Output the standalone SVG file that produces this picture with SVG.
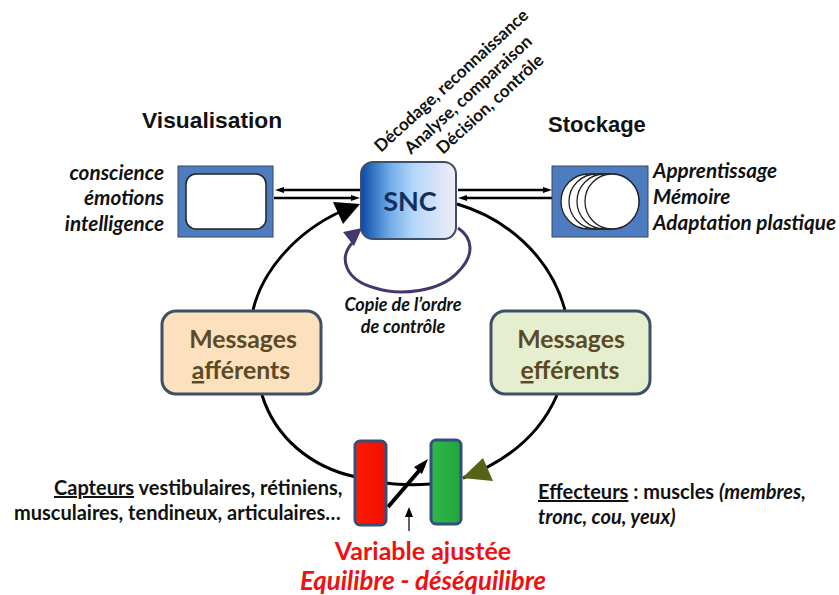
<svg xmlns="http://www.w3.org/2000/svg" width="839" height="595" viewBox="0 0 839 595">
<defs>
<linearGradient id="snc" x1="0" x2="1" y1="0" y2="0"><stop offset="0" stop-color="#0a4aa6"/><stop offset="0.3" stop-color="#6fabe8"/><stop offset="0.55" stop-color="#b4d6fa"/><stop offset="1" stop-color="#f3ecf6"/></linearGradient>
<linearGradient id="red" x1="0" x2="1" y1="0" y2="0"><stop offset="0" stop-color="#ff1a00"/><stop offset="1" stop-color="#f01000"/></linearGradient>
<linearGradient id="grn" x1="0" x2="1" y1="0" y2="0"><stop offset="0" stop-color="#2fb84a"/><stop offset="1" stop-color="#22a63c"/></linearGradient>
</defs>
<style>
text{font-family:"Lato","Liberation Sans",sans-serif;fill:#111;font-weight:700}
.i{font-style:italic;font-size:20.7px}
.h{font-size:22.8px;font-family:"Liberation Sans",sans-serif}
.m{font-size:24.8px;fill:#5b4a24;text-anchor:middle}
.c{fill:none;stroke:#000;stroke-width:3}
.a{stroke:#000;stroke-width:2.5;fill:none}
.e{fill:#fff;stroke:#222;stroke-width:1.3}
.t{font-size:20px}
.r{font-size:17.2px}
.v{fill:#f01010}
</style>
<rect width="839" height="595" fill="#fff"/>
<g id="connectors">
<path class="c" d="M253 310C262 272 295 232 342 211"/>
<path d="M333 202L360 204L343 224Z" fill="#000"/>
<path class="c" d="M457 204C505 218 550 255 565 310"/>
<path class="c" d="M262 395C275 437 310 467 356 477"/>
<path class="c" d="M386 483C400 485 415 485 431 484"/>
<path class="c" d="M463 478C505 462 540 435 557 395"/>
<path d="M462 478L483 458L493 481Z" fill="#556219"/>
<path d="M353 242C338 258 345 280 375 288C400 296 440 292 458 272C475 255 473 238 458 228" fill="none" stroke="#46366c" stroke-width="3"/>
<path d="M362 228L343 232L354 246Z" fill="#46366c"/>
<path class="a" d="M280 190H360"/><path d="M275 190L284 187V193Z"/>
<path class="a" d="M274 198H354"/><path d="M360 198L351 195V201Z"/>
<path class="a" d="M458 190H546"/><path d="M552 190L543 187V193Z"/>
<path class="a" d="M464 198H552"/><path d="M458 198L467 195V201Z"/>
<path d="M388 507L424 465" stroke="#000" stroke-width="4" fill="none"/><path d="M428 459L422 474L414 467Z"/>
<path d="M409 531V512" stroke="#222" stroke-width="1.4"/><path d="M409 507L405 517H413Z"/>
</g>
<g id="visualisation"><rect x="178" y="166" width="95" height="71" fill="#4d7cc0" stroke="#39475f"/><rect x="186" y="174" width="80" height="55" rx="10" fill="#fff" stroke="#222" stroke-width="1.5"/></g>
<g id="snc-node"><rect x="361" y="162" width="95" height="77" rx="12" fill="url(#snc)" stroke="#3d5068" stroke-width="2"/><text x="410" y="211" text-anchor="middle" font-size="27" style="fill:#12305f">SNC</text></g>
<g id="stockage"><rect x="552" y="166" width="96" height="71" fill="#4d7cc0" stroke="#39475f"/>
<rect x="561" y="174" width="64" height="55" rx="27.5" class="e"/><rect x="569" y="174" width="64" height="55" rx="27.5" class="e"/><rect x="577" y="174" width="62" height="55" rx="27.5" class="e"/><rect x="585" y="174" width="54" height="55" rx="27.5" class="e"/></g>
<g id="afferents"><rect x="162" y="311" width="159" height="83" rx="14" fill="#fde0bd" stroke="#3d5068" stroke-width="3"/><text class="m" x="243" y="348">Messages</text><text class="m" x="241" y="379"><tspan text-decoration="underline">a</tspan>fférents</text></g>
<g id="efferents"><rect x="491" y="311" width="159" height="83" rx="14" fill="#e5efcf" stroke="#3d5068" stroke-width="3"/><text class="m" x="571" y="348">Messages</text><text class="m" x="570" y="379"><tspan text-decoration="underline">e</tspan>fférents</text></g>
<g id="capteur"><rect x="355" y="441" width="31" height="84" rx="5" fill="url(#red)" stroke="#33507c" stroke-width="3"/></g>
<g id="effecteur"><rect x="431" y="440" width="30" height="84" rx="5" fill="url(#grn)" stroke="#33507c" stroke-width="3"/></g>
<g id="labels">
<text class="h" x="142" y="128">Visualisation</text>
<text class="h" x="548" y="132" style="font-size:22px">Stockage</text>
<g class="i" text-anchor="end"><text x="164" y="180">conscience</text><text x="164" y="205">émotions</text><text x="164" y="231">intelligence</text></g>
<g class="i"><text x="653" y="178">Apprentissage</text><text x="653" y="204">Mémoire</text><text x="653" y="230">Adaptation plastique</text></g>
<g class="r"><text transform="translate(381 153) rotate(-42.5)">Décodage, reconnaissance</text><text transform="translate(411 155) rotate(-42.5)">Analyse, comparaison</text><text transform="translate(443 155) rotate(-42.5)">Décision, contrôle</text></g>
<g font-size="18" font-style="italic" text-anchor="middle"><text x="403" y="311">Copie de l’ordre</text><text x="403" y="333">de contrôle</text></g>
<text class="t" x="54" y="495"><tspan text-decoration="underline">Capteurs</tspan> vestibulaires, rétiniens,</text>
<text class="t" x="14" y="520">musculaires, tendineux, articulaires…</text>
<text class="t" x="538" y="499"><tspan text-decoration="underline">Effecteurs</tspan> : muscles <tspan font-style="italic">(membres,</tspan></text>
<text class="t" x="538" y="524" font-style="italic">tronc, cou, yeux)</text>
<text x="423" y="560" text-anchor="middle" class="v" font-size="25">Variable ajustée</text>
<text x="423" y="590" text-anchor="middle" class="v" font-size="25.8" font-style="italic">Equilibre - déséquilibre</text>
</g>
</svg>
